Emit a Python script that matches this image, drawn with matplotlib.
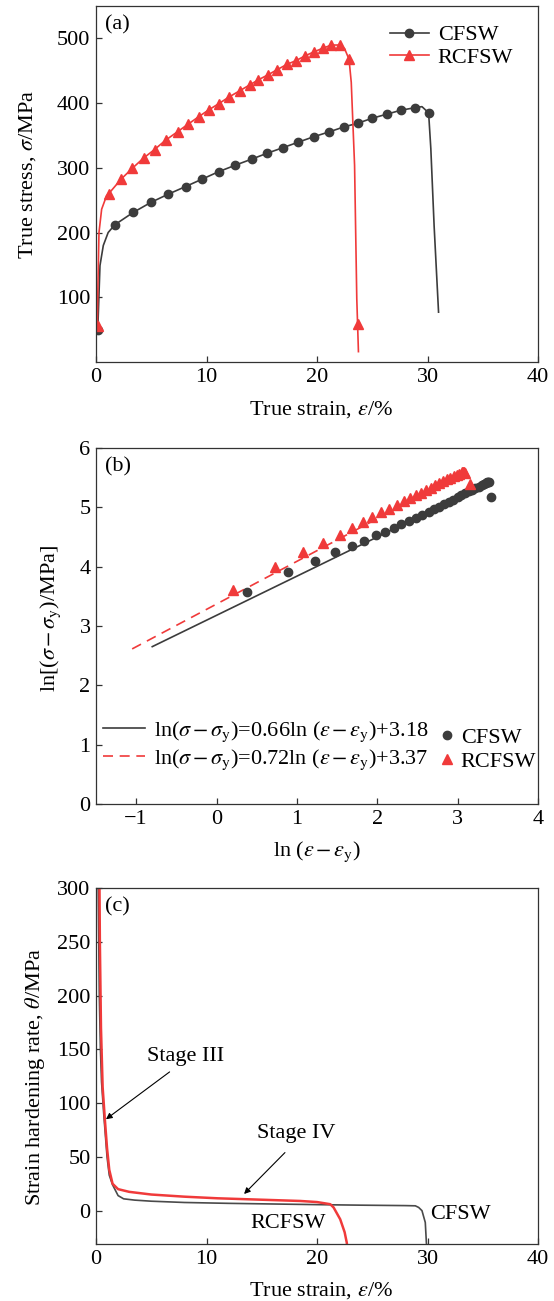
import matplotlib
matplotlib.use("Agg")
import matplotlib.pyplot as plt

# ── Data (a): true stress-strain ───────────────────────────────────────────
cfsw_line_strain = [0.16, 0.36, 0.66, 1.1, 1.7, 3.36, 4.96, 6.5, 8.1, 9.6, 11.1, 12.6, 14.1,
                    15.5, 16.9, 18.3, 19.7, 21.1, 22.4, 23.7, 25.0, 26.3, 27.6, 28.9, 29.5,
                    30.1, 30.3, 30.6, 31.0]
cfsw_line_stress = [50, 149, 180, 200, 212, 231, 246.5, 259, 271, 282.5, 294, 304, 313.5,
                    322.6, 331, 339.6, 348, 355.5, 363, 369, 376.6, 382.8, 389, 393, 394.5,
                    385, 330, 210, 77]
cfsw_mk_strain = [0.16, 1.7, 3.36, 4.96, 6.5, 8.1, 9.6, 11.1, 12.6, 14.1, 15.5, 16.9, 18.3,
                  19.7, 21.1, 22.4, 23.7, 25.0, 26.3, 27.6, 28.9, 30.1]
cfsw_mk_stress = [50, 212, 231, 246.5, 259, 271, 282.5, 294, 304, 313.5, 322.6, 331, 339.6,
                  348, 355.5, 363, 369, 376.6, 382.8, 389, 393, 385]

rcfsw_line_strain = [0.12, 0.18, 0.27, 0.51, 0.96, 1.15, 2.27, 3.3, 4.3, 5.3, 6.3, 7.4, 8.3,
                     9.3, 10.2, 11.1, 12.0, 13.0, 13.9, 14.7, 15.6, 16.4, 17.3, 18.1, 18.9,
                     19.7, 20.5, 21.3, 22.1, 22.5, 22.9, 23.1, 23.4, 23.6, 23.75]
rcfsw_line_stress = [56, 123, 200, 236, 257, 260, 282.5, 299.5, 315, 328.3, 342.7, 356, 367,
                     379, 389.5, 399, 409, 419, 428, 436, 444, 451.7, 460, 465.6, 472.8,
                     479, 484.6, 489.7, 489.7, 484, 467.6, 432, 304, 98, 16]
rcfsw_mk_strain = [0.19, 1.15, 2.27, 3.3, 4.3, 5.3, 6.3, 7.4, 8.3, 9.3, 10.2, 11.1, 12.0,
                   13.0, 13.9, 14.7, 15.6, 16.4, 17.3, 18.1, 18.9, 19.7, 20.5, 21.3, 22.1,
                   22.9, 23.7]
rcfsw_mk_stress = [56, 260, 282.5, 299.5, 315, 328.3, 342.7, 356, 367, 379, 389.5, 399, 409,
                   419, 428, 436, 444, 451.7, 460, 465.6, 472.8, 479, 484.6, 489.7, 489.7,
                   467.6, 59]

# ── Data (b): ln(σ−σy) vs ln(ε−εy) ─────────────────────────────────────────
cfsw_ln_e = [0.375, 0.89, 1.22, 1.48, 1.69, 1.84, 1.99, 2.10, 2.21, 2.30, 2.40, 2.48, 2.56,
             2.64, 2.71, 2.77, 2.83, 2.89, 2.94, 3.00, 3.04, 3.09, 3.14, 3.18, 3.22, 3.26,
             3.30, 3.33, 3.35, 3.37, 3.38, 3.39, 3.42]
cfsw_ln_s = [3.57, 3.91, 4.09, 4.24, 4.34, 4.44, 4.53, 4.59, 4.66, 4.72, 4.77, 4.82, 4.87,
             4.92, 4.97, 5.01, 5.05, 5.09, 5.13, 5.17, 5.20, 5.24, 5.27, 5.30, 5.33, 5.35,
             5.38, 5.40, 5.41, 5.42, 5.42, 5.42, 5.18]
rcfsw_ln_e = [0.20, 0.73, 1.07, 1.32, 1.53, 1.69, 1.82, 1.94, 2.05, 2.15, 2.24, 2.33, 2.41,
              2.48, 2.55, 2.61, 2.67, 2.72, 2.77, 2.82, 2.87, 2.91, 2.95, 2.99, 3.02, 3.05,
              3.07, 3.08, 3.09, 3.15]
rcfsw_ln_s = [3.61, 4.00, 4.24, 4.40, 4.54, 4.66, 4.75, 4.84, 4.92, 4.98, 5.04, 5.10, 5.15,
              5.20, 5.25, 5.29, 5.33, 5.37, 5.41, 5.44, 5.47, 5.50, 5.53, 5.55, 5.57, 5.59,
              5.60, 5.60, 5.58, 5.40]
fit_cfsw_x = [-0.80, 3.40]
fit_cfsw_y = [2.652, 5.424]
fit_rcfsw_x = [-1.05, 3.10]
fit_rcfsw_y = [2.614, 5.602]

# ── Data (c): strain hardening rate ────────────────────────────────────────
cfsw_th_strain = [0.12, 0.2, 0.3, 0.4, 0.5, 0.7, 0.85, 1.0, 1.2, 1.5, 2.0, 2.5, 3.5, 5,
                  8, 12, 16, 20, 24, 28.0, 28.9, 29.2, 29.5, 29.8, 29.9, 30.0]
cfsw_th_rate = [420, 300, 200, 150, 120, 90, 70, 50, 33, 24, 14, 11, 9.8, 8.8,
                7.6, 6.8, 6.2, 5.6, 5.1, 4.7, 4.5, 3, 0, -11, -30, -40]
rcfsw_th_strain = [0.25, 0.35, 0.45, 0.6, 0.8, 1.0, 1.2, 1.5, 2.0, 3, 5, 8, 11, 14, 17,
                   18.5, 20.0, 21.2, 21.5, 22.1, 22.5, 22.7, 22.75]
rcfsw_th_rate = [400, 250, 170, 115, 85, 58, 38, 25, 20, 17.5, 15, 13, 11.5, 10.5, 9.5,
                 9, 8, 6, 3, -8, -20, -30, -40]

RED = "#f03a3a"
DARK = "#3c3c3c"

plt.rcParams["font.family"] = "serif"
plt.rcParams["font.serif"] = ["Liberation Serif", "DejaVu Serif"]
plt.rcParams["mathtext.fontset"] = "stix"
plt.rcParams["font.size"] = 16
plt.rcParams["axes.linewidth"] = 0.9
plt.rcParams["axes.edgecolor"] = "#333333"

fig = plt.figure(figsize=(5.54, 13.01), dpi=100)
L, W, H = 96 / 554, 442 / 554, 356 / 1301
ax1 = fig.add_axes([L, 1 - 362 / 1301, W, H])
ax2 = fig.add_axes([L, 1 - 804 / 1301, W, H])
ax3 = fig.add_axes([L, 1 - 1244 / 1301, W, H])

for ax in (ax1, ax2, ax3):
    ax.tick_params(direction="in", length=4.5, width=0.9, labelsize=16, pad=4,
                   top=False, right=False, color="#333333")

# ── (a) ────────────────────────────────────────────────────────────────────
ax1.plot(cfsw_line_strain, cfsw_line_stress, color=DARK, lw=1.2)
ax1.plot(cfsw_mk_strain, cfsw_mk_stress, ls="none", marker="o", ms=6, color=DARK)
ax1.plot(rcfsw_line_strain, rcfsw_line_stress, color=RED, lw=1.2)
ax1.plot(rcfsw_mk_strain, rcfsw_mk_stress, ls="none", marker="^", ms=7, color=RED)
h1, = ax1.plot([], [], color=DARK, lw=1.2, marker="o", ms=6)
h2, = ax1.plot([], [], color=RED, lw=1.2, marker="^", ms=7)
ax1.legend([h1, h2], ["CFSW", "RCFSW"], loc="upper left", bbox_to_anchor=(0.64, 0.978),
           frameon=False, handlelength=1.75, handletextpad=0.4, borderpad=0,
           labelspacing=0.1, numpoints=1, fontsize=16)
ax1.set_xlim(0, 40)
ax1.set_ylim(0, 550)
ax1.set_xticks([0, 10, 20, 30, 40])
ax1.set_yticks([100, 200, 300, 400, 500])
ax1.set_xlabel(r"True strain, $\varepsilon$/%", labelpad=9)
ax1.set_ylabel(r"True stress, $\sigma$/MPa", labelpad=14)
ax1.xaxis.label.set_x(0.51)
ax1.yaxis.label.set_y(0.528)
ax1.text(0.02, 0.975, "(a)", transform=ax1.transAxes, ha="left", va="top", fontsize=16)

# ── (b) ────────────────────────────────────────────────────────────────────
l1, = ax2.plot(fit_cfsw_x, fit_cfsw_y, color=DARK, lw=1.2)
l2, = ax2.plot(fit_rcfsw_x, fit_rcfsw_y, color=RED, lw=1.2, dashes=(6, 4))
m1, = ax2.plot(cfsw_ln_e, cfsw_ln_s, ls="none", marker="o", ms=6, color=DARK)
m2, = ax2.plot(rcfsw_ln_e, rcfsw_ln_s, ls="none", marker="^", ms=7, color=RED)
leg = ax2.legend([l1, l2],
                 [r"ln($\sigma\,{-}\,\sigma_{\rm y}$)=0.66ln ($\varepsilon\,{-}\,\varepsilon_{\rm y}$)+3.18",
                  r"ln($\sigma\,{-}\,\sigma_{\rm y}$)=0.72ln ($\varepsilon\,{-}\,\varepsilon_{\rm y}$)+3.37"],
                 loc="lower left", bbox_to_anchor=(0.015, 0.09), frameon=False,
                 handlelength=1.9, handletextpad=0.4, borderpad=0, borderaxespad=0,
                 labelspacing=0.15, fontsize=16)
ax2.add_artist(leg)
ax2.legend([m1, m2], ["CFSW", "RCFSW"], loc="lower left", bbox_to_anchor=(0.775, 0.09),
           frameon=False, handlelength=0.8, handletextpad=0.2, borderpad=0,
           borderaxespad=0, labelspacing=0.15, numpoints=1, fontsize=16)
ax2.set_xlim(-1.5, 4)
ax2.set_ylim(0, 6)
ax2.set_xticks([-1, 0, 1, 2, 3, 4])
ax2.set_yticks([0, 1, 2, 3, 4, 5, 6])
ax2.set_xlabel(r"ln ($\varepsilon\,{-}\,\varepsilon_{\rm y}$)", labelpad=8)
ax2.set_ylabel(r"ln[($\sigma\,{-}\,\sigma_{\rm y}$)/MPa]", labelpad=12)
ax2.yaxis.label.set_y(0.52)
ax2.text(0.02, 0.975, "(b)", transform=ax2.transAxes, ha="left", va="top", fontsize=16)

# ── (c) ────────────────────────────────────────────────────────────────────
ax3.plot(cfsw_th_strain, cfsw_th_rate, color="#4a4a4a", lw=1.2)
ax3.plot(rcfsw_th_strain, rcfsw_th_rate, color=RED, lw=1.8)
ax3.set_xlim(0, 40)
ax3.set_ylim(-31, 300)
ax3.set_xticks([0, 10, 20, 30, 40])
ax3.set_yticks([0, 50, 100, 150, 200, 250, 300])
ax3.set_xlabel(r"True strain, $\varepsilon$/%", labelpad=8)
ax3.set_ylabel(r"Strain hardening rate, $\theta$/MPa", labelpad=7)
ax3.xaxis.label.set_x(0.51)
ax3.yaxis.label.set_y(0.47)
ax3.text(0.02, 0.975, "(c)", transform=ax3.transAxes, ha="left", va="top", fontsize=16)
arrow = dict(arrowstyle="-|>", color="k", lw=0.8, mutation_scale=9, shrinkA=0, shrinkB=0)
ax3.annotate("", xy=(0.9, 85), xytext=(6.66, 129), arrowprops=arrow)
ax3.text(8.1, 143, "Stage III", ha="center", va="center", fontsize=16)
ax3.annotate("", xy=(13.4, 15.5), xytext=(17.1, 54), arrowprops=arrow)
ax3.text(18.1, 71.4, "Stage IV", ha="center", va="center", fontsize=16)
ax3.text(17.4, -12.4, "RCFSW", ha="center", va="center", fontsize=16)
ax3.text(33.0, -3.7, "CFSW", ha="center", va="center", fontsize=16)

fig.savefig("out.png", dpi=100)
